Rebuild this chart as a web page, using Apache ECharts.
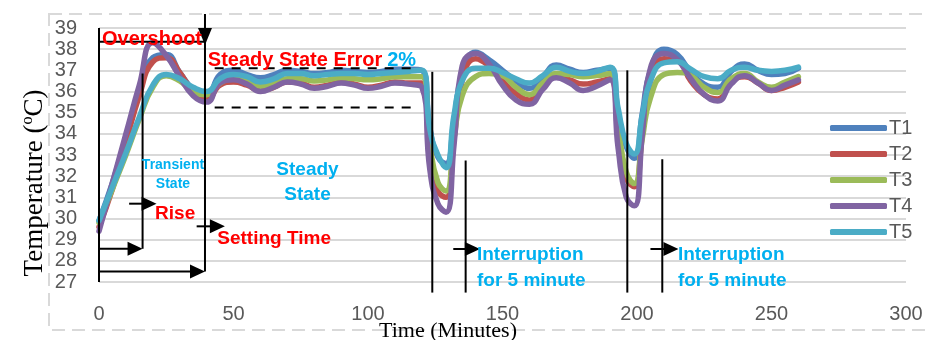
<!DOCTYPE html>
<html>
<head>
<meta charset="utf-8">
<script src="https://cdn.jsdelivr.net/npm/echarts@6/dist/echarts.min.js"></script>
<style>
  html, body { margin: 0; padding: 0; background: #fff; }
  #main { width: 929px; height: 340px; }
</style>
</head>
<body>
<div id="main"></div>
<script>
// time stamps (minutes) and the five thermocouple readings (deg C)
const times = [0, 5, 10, 15, 20, 25, 30, 35, 40, 45, 50, 55, 60, 65, 70, 75, 80, 85, 90, 95, 100, 105, 110, 115, 120,
  123, 126, 129, 132, 135,
  140, 145, 150, 155, 160, 165, 170, 175, 180, 185, 190,
  193, 196, 199, 202, 205,
  210, 215, 220, 225, 230, 235, 240, 245, 250, 255, 260];

const t1 = [29.9, 31.7, 33.8, 35.9, 37.6, 37.75, 36.9, 36.1, 35.8, 36.8, 37.0, 36.8, 36.65, 36.8, 37.0, 36.95, 36.85, 36.9, 37.0, 36.95, 36.9, 36.95, 37.05, 37.05, 37.0,
  34.3, 32.9, 32.6, 34.7, 36.8,
  37.85, 37.5, 37.0, 36.5, 36.15, 36.7, 37.25, 37.05, 36.9, 37.0, 37.1,
  35.0, 33.4, 32.85, 35.0, 37.0,
  38.0, 37.75, 36.9, 36.35, 36.2, 36.95, 37.3, 37.0, 36.8, 36.85, 37.1];

const t2 = [29.6, 31.4, 33.6, 35.8, 37.4, 37.6, 36.9, 36.0, 35.6, 36.3, 36.45, 36.3, 36.05, 36.2, 36.45, 36.4, 36.2, 36.3, 36.45, 36.35, 36.2, 36.3, 36.45, 36.4, 36.4,
  33.0, 31.3, 31.0, 33.8, 36.5,
  37.55, 37.2, 36.5, 35.9, 35.6, 36.3, 36.75, 36.55, 36.35, 36.45, 36.6,
  34.0, 31.9, 31.5, 34.0, 36.5,
  37.55, 37.45, 36.5, 35.85, 35.65, 36.45, 36.7, 36.4, 36.05, 36.2, 36.45];

const t3 = [29.8, 31.4, 33.0, 34.7, 36.2, 36.75, 36.5, 36.0, 35.85, 36.4, 36.6, 36.5, 36.25, 36.4, 36.6, 36.6, 36.5, 36.55, 36.65, 36.6, 36.55, 36.6, 36.7, 36.7, 36.7,
  33.5, 31.7, 31.3, 33.8, 35.8,
  36.7, 36.85, 36.75, 36.2, 35.85, 36.4, 36.85, 36.8, 36.7, 36.75, 36.85,
  34.3, 32.2, 31.65, 33.8, 35.7,
  36.8, 36.9, 36.75, 36.2, 35.95, 36.6, 36.85, 36.45, 36.2, 36.45, 36.7];

const t4 = [29.4, 31.7, 34.0, 36.3, 38.3, 37.7, 36.7, 35.8, 35.5, 36.4, 36.55, 36.35, 36.0, 36.2, 36.45, 36.35, 36.15, 36.25, 36.4, 36.3, 36.15, 36.25, 36.4, 36.35, 36.2,
  32.3, 30.7, 30.3, 33.5, 37.2,
  37.8, 37.3, 36.3, 35.6, 35.4, 36.1, 36.65, 36.4, 36.05, 36.25, 36.55,
  33.3, 31.0, 30.6, 34.0, 37.1,
  37.8, 37.5, 36.6, 35.85, 35.55, 36.35, 36.75, 36.4, 36.05, 36.3, 36.55];

const t5 = [29.9, 31.5, 33.1, 34.8, 36.3, 36.8, 36.6, 36.2, 36.0, 36.6, 36.8, 36.7, 36.45, 36.6, 36.85, 36.85, 36.75, 36.8, 36.85, 36.85, 36.8, 36.85, 36.9, 36.95, 37.0,
  34.2, 33.0, 32.4, 34.9, 36.5,
  37.1, 37.1, 36.9, 36.6, 36.4, 36.75, 37.15, 36.95, 36.85, 36.95, 37.15,
  35.2, 33.55, 33.05, 34.9, 36.5,
  37.35, 37.4, 37.05, 36.7, 36.6, 37.0, 37.15, 37.0, 36.95, 37.0, 37.15];

const seriesNames = ['T1', 'T2', 'T3', 'T4', 'T5'];
const seriesValues = [t1, t2, t3, t4, t5];
const colors = ['#4f81bd', '#c0504d', '#9bbb59', '#8064a2', '#4bacc6'];

const RED = '#ff0000';
const CYAN = '#00b0f0';
const SANS = '"Liberation Sans", Arial, sans-serif';
const SERIF = '"Liberation Serif", "Times New Roman", serif';

const chart = echarts.init(document.getElementById('main'));

chart.setOption({
  animation: false,
  backgroundColor: '#fff',
  color: colors,
  grid: { left: 99, right: 23, top: 28, bottom: 58 },
  legend: {
    orient: 'vertical',
    left: 825,
    top: 113,
    icon: 'roundRect',
    itemWidth: 57,
    itemHeight: 6,
    itemGap: 6,
    textStyle: { color: '#595959', fontSize: 20, fontFamily: SANS, padding: [0, 0, 0, -3] },
    data: seriesNames
  },
  xAxis: {
    type: 'value',
    min: 0,
    max: 300,
    interval: 50,
    axisLine: { show: false },
    axisTick: { show: false },
    splitLine: { show: false },
    axisLabel: { color: '#595959', fontSize: 20, fontFamily: SANS, margin: 22 }
  },
  yAxis: {
    type: 'value',
    min: 27,
    max: 39,
    interval: 1,
    axisLine: { show: false },
    axisTick: { show: false },
    splitLine: { lineStyle: { color: '#d9d9d9', width: 2 } },
    axisLabel: { color: '#595959', fontSize: 20, fontFamily: SANS, margin: 22 }
  },
  series: seriesNames.map((name, i) => ({
    name: name,
    type: 'line',
    smooth: 0.5,
    symbol: 'none',
    showSymbol: false,
    lineStyle: { width: 5.5, cap: 'round', join: 'round' },
    data: times.map((t, j) => [t, seriesValues[i][j]])
  }))
});

// annotations, placed in data coordinates and converted through the grid
const P = (t, v) => chart.convertToPixel({ gridIndex: 0 }, [t, v]);

const plainLines = [
  [[0, 39], [0, 27]],
  [[0, 38.35], [39.4, 38.35]],
  [[39.4, 39.66], [39.4, 27.5]],
  [[16.2, 36.85], [16.2, 28.57]],
  [[123.9, 36.93], [123.9, 26.5]],
  [[136.3, 32.74], [136.3, 26.5]],
  [[196.4, 37.0], [196.4, 26.5]],
  [[209.4, 32.8], [209.4, 26.5]]
];
const arrowLines = [
  [[0, 28.57], [16.2, 28.57]],
  [[11.2, 30.7], [21.4, 30.7]],
  [[0, 27.5], [39.4, 27.5]],
  [[36.3, 29.63], [46.8, 29.63]],
  [[131.7, 28.56], [141.6, 28.56]],
  [[205, 28.56], [215.4, 28.56]]
];
const dashedLines = [
  [[43, 37.1], [117.6, 37.1]],
  [[43, 35.25], [118.3, 35.25]]
];
const labels = [
  { text: 'Overshoot', at: [19.7, 38.48], color: RED, size: 20, align: 'center' },
  { text: 'Steady State Error', at: [72.9, 37.46], color: RED, size: 20, align: 'center' },
  { text: '2%', at: [112.5, 37.46], color: CYAN, size: 20, align: 'center' },
  { text: 'Transient', at: [27.5, 32.5], color: CYAN, size: 14, align: 'center' },
  { text: 'State', at: [27.5, 31.6], color: CYAN, size: 14, align: 'center' },
  { text: 'Rise', at: [28.3, 30.23], color: RED, size: 19, align: 'center' },
  { text: 'Setting Time', at: [65.1, 29.05], color: RED, size: 19, align: 'center' },
  { text: 'Steady', at: [77.5, 32.3], color: CYAN, size: 19, align: 'center' },
  { text: 'State', at: [77.5, 31.1], color: CYAN, size: 19, align: 'center' },
  { text: 'Interruption', at: [140.5, 28.3], color: CYAN, size: 19, align: 'left' },
  { text: 'for 5 minute', at: [140.5, 27.06], color: CYAN, size: 19, align: 'left' },
  { text: 'Interruption', at: [215.2, 28.3], color: CYAN, size: 19, align: 'left' },
  { text: 'for 5 minute', at: [215.2, 27.06], color: CYAN, size: 19, align: 'left' }
];

const graphic = [];

// outer dashed frame
graphic.push({
  type: 'rect', z: -10,
  shape: { x: 49, y: 14, width: 900, height: 316 },
  style: { fill: 'none', stroke: '#d9d9d9', lineWidth: 2, lineDash: [13, 7] }
});

plainLines.forEach(([a, b]) => {
  const p1 = P(a[0], a[1]), p2 = P(b[0], b[1]);
  graphic.push({
    type: 'line', z: 100,
    shape: { x1: p1[0], y1: p1[1], x2: p2[0], y2: p2[1] },
    style: { stroke: '#000', lineWidth: 2 }
  });
});

arrowLines.forEach(([a, b]) => {
  const p1 = P(a[0], a[1]), p2 = P(b[0], b[1]);
  graphic.push({
    type: 'line', z: 100,
    shape: { x1: p1[0], y1: p1[1], x2: p2[0] - 8, y2: p2[1] },
    style: { stroke: '#000', lineWidth: 2 }
  });
  graphic.push({
    type: 'polygon', z: 100,
    shape: { points: [[p2[0] - 15, p2[1] - 7], [p2[0], p2[1]], [p2[0] - 15, p2[1] + 7]] },
    style: { fill: '#000' }
  });
});

// downward arrow head above the settling line
(function () {
  const tip = P(39.4, 38.2);
  graphic.push({
    type: 'polygon', z: 100,
    shape: { points: [[tip[0] - 7, tip[1] - 17], [tip[0] + 7, tip[1] - 17], [tip[0], tip[1]]] },
    style: { fill: '#000' }
  });
})();

dashedLines.forEach(([a, b]) => {
  const p1 = P(a[0], a[1]), p2 = P(b[0], b[1]);
  graphic.push({
    type: 'line', z: 100,
    shape: { x1: p1[0], y1: p1[1], x2: p2[0], y2: p2[1] },
    style: { stroke: '#000', lineWidth: 2, lineDash: [9, 8] }
  });
});

labels.forEach(l => {
  const p = P(l.at[0], l.at[1]);
  graphic.push({
    type: 'text', z: 110,
    x: p[0], y: p[1],
    style: {
      text: l.text,
      fill: l.color,
      font: 'bold ' + l.size + 'px ' + SANS,
      textAlign: l.align,
      textVerticalAlign: 'middle',
      verticalAlign: 'middle'
    }
  });
});

// axis titles
graphic.push({
  type: 'text', z: 110,
  x: 35, y: 183, rotation: Math.PI / 2,
  style: {
    text: '{n|Temperature (}{s|o}{n|C)}',
    textAlign: 'center',
    verticalAlign: 'middle',
    textVerticalAlign: 'middle',
    rich: {
      n: { font: '27px ' + SERIF, fill: '#000', lineHeight: 30 },
      s: { font: '16px ' + SERIF, fill: '#000', verticalAlign: 'top', lineHeight: 30, padding: [0, 0, 12, 0] }
    }
  }
});
graphic.push({
  type: 'text', z: 110,
  x: 448, y: 331,
  style: {
    text: 'Time (Minutes)',
    fill: '#000',
    font: '22px ' + SERIF,
    textAlign: 'center',
    verticalAlign: 'middle',
    textVerticalAlign: 'middle'
  }
});

chart.setOption({ graphic: graphic });
</script>
</body>
</html>
